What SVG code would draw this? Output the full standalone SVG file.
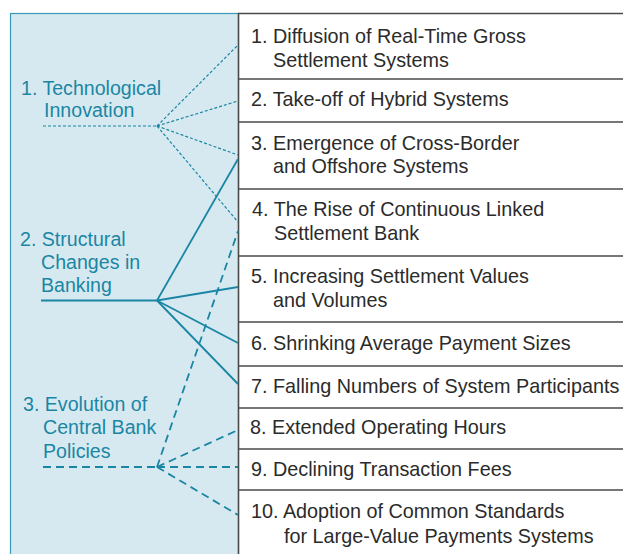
<svg xmlns="http://www.w3.org/2000/svg" width="623" height="554" viewBox="0 0 623 554">
<style>
.lbl{font-family:"Liberation Sans",Arial,sans-serif;font-size:19.6px;fill:#1a86a4}
.itm{font-family:"Liberation Sans",Arial,sans-serif;font-size:19.8px;fill:#2b2b2b}
.sep{stroke:#4a4a4a;stroke-width:1.5;fill:none}
.c{stroke:#1a86a4;fill:none}
.dot{stroke-width:1.2;stroke-dasharray:3 2}
.sol{stroke-width:1.8}
.dsh{stroke-width:1.8;stroke-dasharray:8 5}
</style>
<rect width="623" height="554" fill="#ffffff"/>
<g id="panel">
<rect x="10.5" y="13.5" width="228" height="560" fill="#d7e9f0" stroke="#3a9ab5" stroke-width="1.2"/>
</g>
<g id="grid">
<line class="sep" x1="238" y1="13.5" x2="623" y2="13.5"/>
<line class="sep" x1="238.5" y1="13" x2="238.5" y2="554"/>
<line class="sep" x1="238" y1="79" x2="623" y2="79"/>
<line class="sep" x1="238" y1="122" x2="623" y2="122"/>
<line class="sep" x1="238" y1="189" x2="623" y2="189"/>
<line class="sep" x1="238" y1="256" x2="623" y2="256"/>
<line class="sep" x1="238" y1="322" x2="623" y2="322"/>
<line class="sep" x1="238" y1="366" x2="623" y2="366"/>
<line class="sep" x1="238" y1="408" x2="623" y2="408"/>
<line class="sep" x1="238" y1="449" x2="623" y2="449"/>
<line class="sep" x1="238" y1="490" x2="623" y2="490"/>
</g>
<g id="connectors">
<g class="c dot">
<line x1="43" y1="126" x2="157" y2="126"/>
<line x1="157" y1="126" x2="238" y2="45"/>
<line x1="157" y1="126" x2="238" y2="101"/>
<line x1="157" y1="126" x2="238" y2="155"/>
<line x1="157" y1="126" x2="238" y2="222"/>
</g>
<g class="c sol">
<line x1="41" y1="300.5" x2="157" y2="300.5"/>
<line x1="157" y1="300.5" x2="238" y2="159"/>
<line x1="157" y1="300.5" x2="238" y2="287"/>
<line x1="157" y1="300.5" x2="238" y2="343"/>
<line x1="157" y1="300.5" x2="238" y2="384"/>
</g>
<g class="c dsh">
<line x1="43" y1="467" x2="157" y2="467"/>
<line x1="157" y1="467" x2="238" y2="231"/>
<line x1="157" y1="467" x2="238" y2="430"/>
<line x1="157" y1="467" x2="238" y2="467"/>
<line x1="157" y1="467" x2="238" y2="515"/>
</g>
</g>
<g id="factor1"><text class="lbl" x="21" y="95">1. Technological</text><text class="lbl" x="44" y="117">Innovation</text></g>
<g id="factor2"><text class="lbl" x="20" y="246">2. Structural</text><text class="lbl" x="41" y="269">Changes in</text><text class="lbl" x="41" y="292">Banking</text></g>
<g id="factor3"><text class="lbl" x="23" y="411">3. Evolution of</text><text class="lbl" x="43" y="434">Central Bank</text><text class="lbl" x="43" y="458">Policies</text></g>
<g id="item1"><text class="itm" x="251" y="43">1. Diffusion of Real-Time Gross</text><text class="itm" x="273" y="67">Settlement Systems</text></g>
<g id="item2"><text class="itm" x="251" y="106">2. Take-off of Hybrid Systems</text></g>
<g id="item3"><text class="itm" x="251" y="150">3. Emergence of Cross-Border</text><text class="itm" x="273" y="173">and Offshore Systems</text></g>
<g id="item4"><text class="itm" x="252" y="216">4. The Rise of Continuous Linked</text><text class="itm" x="274" y="240">Settlement Bank</text></g>
<g id="item5"><text class="itm" x="251" y="283">5. Increasing Settlement Values</text><text class="itm" x="273" y="307">and Volumes</text></g>
<g id="item6"><text class="itm" x="251" y="350">6. Shrinking Average Payment Sizes</text></g>
<g id="item7"><text class="itm" x="251" y="393">7. Falling Numbers of System Participants</text></g>
<g id="item8"><text class="itm" x="250" y="434">8. Extended Operating Hours</text></g>
<g id="item9"><text class="itm" x="251" y="476">9. Declining Transaction Fees</text></g>
<g id="item10"><text class="itm" x="251" y="518">10. Adoption of Common Standards</text><text class="itm" x="284" y="543">for Large-Value Payments Systems</text></g>
</svg>
